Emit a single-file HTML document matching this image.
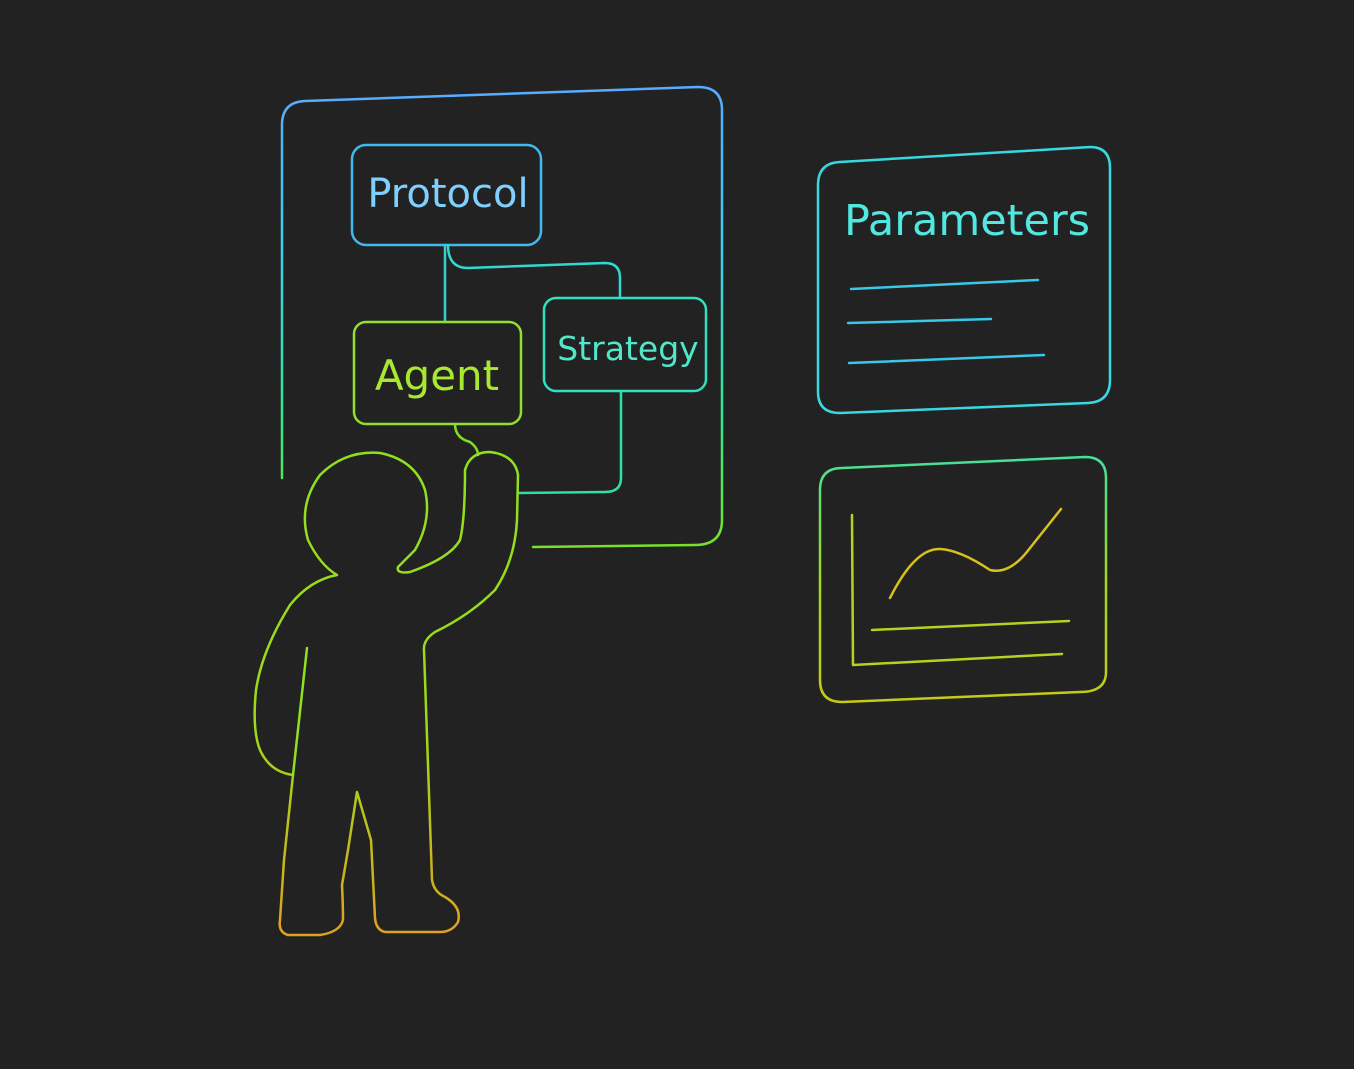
<!DOCTYPE html>
<html><head><meta charset="utf-8"><style>
html,body{margin:0;padding:0;background:#222222;}
svg{display:block}
text{font-family:"DejaVu Sans","Liberation Sans",sans-serif;}
</style></head><body>
<svg width="1354" height="1069" viewBox="0 0 1354 1069">
<defs>
<linearGradient id="gv" x1="0" y1="80" x2="0" y2="560" gradientUnits="userSpaceOnUse">
<stop offset="0" stop-color="#5aa8ff"/><stop offset="0.35" stop-color="#3ad0f0"/><stop offset="0.7" stop-color="#30e890"/><stop offset="1" stop-color="#80e020"/>
</linearGradient>
<linearGradient id="gp" x1="0" y1="450" x2="0" y2="940" gradientUnits="userSpaceOnUse">
<stop offset="0" stop-color="#90e020"/><stop offset="0.6" stop-color="#a0d818"/><stop offset="1" stop-color="#e0a020"/>
</linearGradient>
<linearGradient id="gb" x1="0" y1="450" x2="0" y2="710" gradientUnits="userSpaceOnUse">
<stop offset="0" stop-color="#40e0a0"/><stop offset="0.5" stop-color="#a0d820"/><stop offset="1" stop-color="#c8c818"/>
</linearGradient>
</defs>
<g fill="none" stroke-width="2.5" stroke-linecap="round" stroke-linejoin="round">
<path d="M282 478 L282 125 Q282 102 305 101 L698 87 Q722 87 722 110 L722 520 Q722 545 695 545 L533 547" stroke="url(#gv)"/>
<rect x="352" y="145" width="189" height="100" rx="14" stroke="#40b8f0"/>
<text x="448" y="207" font-size="40" fill="#80d0ff" text-anchor="middle" stroke="none">Protocol</text>
<path d="M445 245 L445 322" stroke="#30d0d0"/>
<path d="M448 245 Q448 268 468 268 L605 263 Q620 263 620 278 L620 298" stroke="#30d8d0"/>
<path d="M621 391 L621 478 Q621 492 605 492 L518 493" stroke="#30e0a0"/>
<path d="M455 424 Q455 438 470 442 Q478 448 478 455" stroke="#80e020"/>
<rect x="354" y="322" width="167" height="102" rx="12" stroke="#90e030"/>
<text x="437" y="390" font-size="42" fill="#a8e830" text-anchor="middle" stroke="none">Agent</text>
<rect x="544" y="298" width="162" height="93" rx="12" stroke="#30e0c0"/>
<text x="628" y="360" font-size="33" fill="#50e8c8" text-anchor="middle" stroke="none">Strategy</text>
<path d="M840 162 L1090 147 Q1110 147 1110 168 L1110 380 Q1110 402 1088 403 L840 413 Q818 413 818 392 L818 185 Q818 163 840 162 Z" stroke="#38d8e0"/>
<text x="967" y="235" font-size="43" fill="#50e8e0" text-anchor="middle" stroke="none">Parameters</text>
<path d="M851 289 L1038 280 M848 323 L991 319 M849 363 L1044 355" stroke="#38c8e8"/>
<path d="M842 468 L1085 457 Q1106 457 1106 478 L1106 672 Q1106 692 1080 692 L842 702 Q820 702 820 680 L820 490 Q820 468 842 468 Z" stroke="url(#gb)"/>
<path d="M852 515 L853 665 L1062 654 M872 630 L1069 621" stroke="#b8d020"/>
<path d="M890 598 Q915 548 940 549 Q960 550 990 570 Q1010 575 1030 548 L1061 509" stroke="#d8c020"/>
<path d="M337 575 Q320 565 308 540 Q298 505 320 475 Q345 450 380 453 Q415 460 425 490 Q432 520 415 550 L398 567 Q396 574 410 572 Q450 558 460 540 Q465 520 465 470 Q470 452 490 452 Q515 455 518 475 L517 520 Q515 560 495 590 Q470 615 435 632 Q423 640 424 650 L432 880 Q434 892 445 897 Q462 907 458 922 Q452 932 440 932 L385 932 Q376 930 375 918 L371 840 L357 792 L348 850 L342 885 Q343 905 343 920 Q340 932 320 935 L288 935 Q278 932 280 920 L284 860 L293 775 Q270 772 260 750 Q252 730 256 690 Q262 650 290 605 Q310 580 337 575 Z" stroke="url(#gp)"/>
<path d="M307 648 L293 775" stroke="#90e020"/>
</g>
</svg>
</body></html>
